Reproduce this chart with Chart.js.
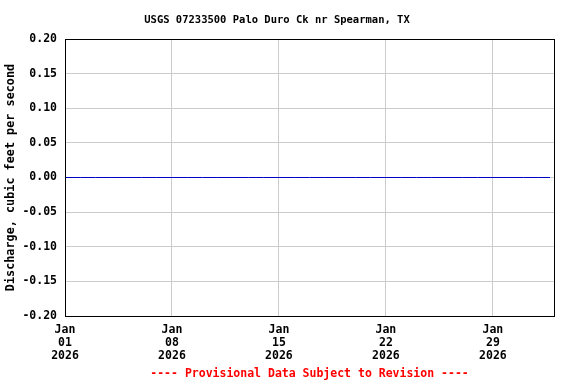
<!DOCTYPE html>
<html>
<head>
<meta charset="utf-8">
<script src="https://cdn.jsdelivr.net/npm/chart.js@4/dist/chart.umd.min.js"></script>
<style>
html,body{margin:0;padding:0;background:#fff;}
canvas{display:block;}
</style>
</head>
<body>
<canvas id="c" width="576" height="384"></canvas>
<script>
// ---- data ----
const chartTitle = "USGS 07233500 Palo Duro Ck nr Spearman, TX";
const yAxisTitle = "Discharge, cubic feet per second";
const footerText = "---- Provisional Data Subject to Revision ----";
const startDate = "2026-01-01T00:00Z";
const endDate = "2026-02-02T00:00Z";
const obsTimes = [
  "2026-01-01T00:00Z","2026-01-02T00:00Z","2026-01-03T00:00Z","2026-01-04T00:00Z",
  "2026-01-05T00:00Z","2026-01-06T00:00Z","2026-01-07T00:00Z","2026-01-08T00:00Z",
  "2026-01-09T00:00Z","2026-01-10T00:00Z","2026-01-11T00:00Z","2026-01-12T00:00Z",
  "2026-01-13T00:00Z","2026-01-14T00:00Z","2026-01-15T00:00Z","2026-01-16T00:00Z",
  "2026-01-17T00:00Z","2026-01-18T00:00Z","2026-01-19T00:00Z","2026-01-20T00:00Z",
  "2026-01-21T00:00Z","2026-01-22T00:00Z","2026-01-23T00:00Z","2026-01-24T00:00Z",
  "2026-01-25T00:00Z","2026-01-26T00:00Z","2026-01-27T00:00Z","2026-01-28T00:00Z",
  "2026-01-29T00:00Z","2026-01-30T00:00Z","2026-01-31T00:00Z","2026-02-01T00:00Z",
  "2026-02-01T17:45Z"
];
const discharge = [
  0,0,0,0,0,0,0,0,0,0,0,0,0,0,0,0,0,0,0,0,0,0,0,0,0,0,0,0,0,0,0,0,0
];
const xTickDates = ["2026-01-01T00:00Z","2026-01-08T00:00Z","2026-01-15T00:00Z","2026-01-22T00:00Z","2026-01-29T00:00Z"];
const xTickLabels = [["Jan","01","2026"],["Jan","08","2026"],["Jan","15","2026"],["Jan","22","2026"],["Jan","29","2026"]];
const yTicks = [-0.20,-0.15,-0.10,-0.05,0.00,0.05,0.10,0.15,0.20];
const yMin = -0.20, yMax = 0.20;

// ---- helpers ----
const DAY = 86400000;
const t0 = Date.parse(startDate);
const toDay = s => (Date.parse(s) - t0) / DAY;
const points = obsTimes.map((t, i) => ({x: toDay(t), y: discharge[i]}));
const xTickVals = xTickDates.map(toDay);

const FONT = "'DejaVu Sans Mono', 'Liberation Mono', monospace";

const frame = {
  id: 'frame',
  afterDraw(chart) {
    const {ctx, chartArea: a} = chart;
    ctx.save();
    ctx.strokeStyle = '#000';
    ctx.lineWidth = 1;
    const l = Math.round(a.left) + 0.5, t = Math.round(a.top) + 0.5;
    const r = Math.round(a.right) + 0.5, b = Math.round(a.bottom) + 0.5;
    ctx.strokeRect(l, t, r - l, b - t);
    ctx.restore();
  }
};

new Chart(document.getElementById('c'), {
  type: 'line',
  data: {
    datasets: [{
      data: points,
      borderColor: '#0000cc',
      borderWidth: 1,
      pointRadius: 0,
      tension: 0,
      fill: false
    }]
  },
  options: {
    responsive: false,
    animation: false,
    devicePixelRatio: 1,
    layout: {padding: {left: 0, right: 22, top: 0, bottom: 0}},
    plugins: {
      legend: {display: false},
      tooltip: {enabled: false},
      title: {
        display: true,
        text: chartTitle,
        color: '#000',
        font: {family: FONT, size: 10.5, weight: 'bold', lineHeight: '13px'},
        padding: {top: 14, bottom: 12}
      },
      subtitle: {
        display: true,
        position: 'bottom',
        fullSize: false,
        text: footerText,
        color: '#ff0000',
        font: {family: FONT, size: 11.5, weight: 'bold', lineHeight: '13px'},
        padding: {top: 7, bottom: 3}
      }
    },
    scales: {
      x: {
        type: 'linear',
        min: 0,
        max: toDay(endDate),
        afterBuildTicks: s => { s.ticks = xTickVals.map(v => ({value: v})); },
        afterFit: s => { s.height = 45; },
        ticks: {
          autoSkip: false,
          maxRotation: 0,
          padding: 8,
          color: '#000',
          font: {family: FONT, size: 11.5, weight: 'bold', lineHeight: '12.7px'},
          callback: (v, i) => xTickLabels[i]
        },
        grid: {color: '#cccccc', lineWidth: 1, drawTicks: false},
        border: {display: false}
      },
      y: {
        type: 'linear',
        min: yMin,
        max: yMax,
        afterBuildTicks: s => { s.ticks = yTicks.map(v => ({value: v})); },
        afterFit: s => { s.width = 65; },
        ticks: {
          padding: 8,
          color: '#000',
          font: {family: FONT, size: 11.5, weight: 'bold'},
          callback: v => Number(v).toFixed(2)
        },
        grid: {color: '#cccccc', lineWidth: 1, drawTicks: false},
        border: {display: false},
        title: {
          display: true,
          text: yAxisTitle,
          color: '#000',
          font: {family: FONT, size: 11.8, weight: 'bold', lineHeight: '13px'},
          padding: {top: 4, bottom: 0}
        }
      }
    }
  },
  plugins: [frame]
});
</script>
</body>
</html>
